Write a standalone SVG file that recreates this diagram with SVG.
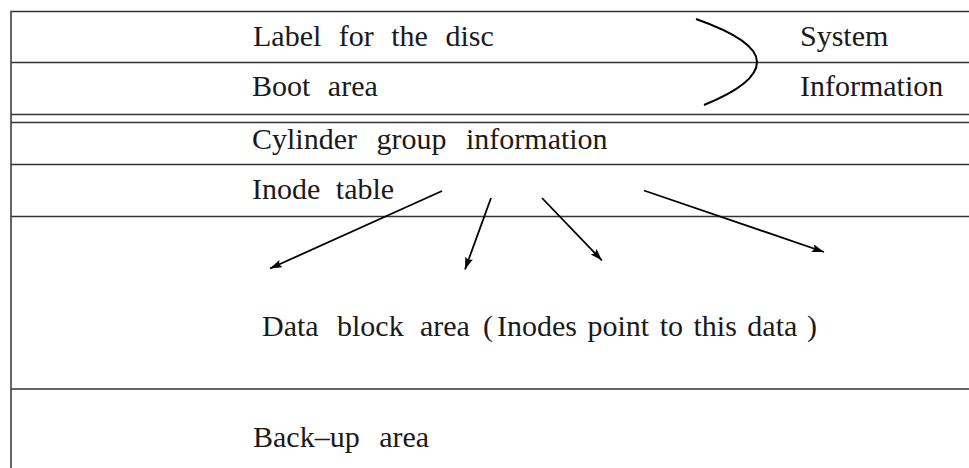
<svg xmlns="http://www.w3.org/2000/svg" width="969" height="468" viewBox="0 0 969 468">
  <style>
    .rule { stroke: #333; stroke-width: 1.5; fill: none; }
    .lbl { font-family: "Liberation Serif", "Times New Roman", serif; font-size: 30px; fill: #1a1a1a; }
    .wide { word-spacing: 10px; }
    .ptr { stroke: #000; stroke-width: 1.8; fill: none; marker-end: url(#head); }
    .brace { stroke: #000; stroke-width: 2; fill: none; }
  </style>
  <defs>
    <marker id="head" markerUnits="userSpaceOnUse" markerWidth="14" markerHeight="10" refX="12" refY="4" orient="auto">
      <path d="M0,0 L12,4 L0,8 L2,4 z" fill="#000"/>
    </marker>
  </defs>
  <rect width="969" height="468" fill="#fff"/>

  <!-- disc layout: outer frame and band separators -->
  <g id="frame">
    <path class="rule" d="M11,468 V11.5 H969"/>
    <line class="rule" x1="11" y1="62.5" x2="969" y2="62.5"/>
    <line class="rule" x1="11" y1="114.5" x2="969" y2="114.5"/>
    <line class="rule" x1="11" y1="122.5" x2="969" y2="122.5"/>
    <line class="rule" x1="11" y1="164.5" x2="969" y2="164.5"/>
    <line class="rule" x1="11" y1="216.5" x2="969" y2="216.5"/>
    <line class="rule" x1="11" y1="389" x2="969" y2="389"/>
  </g>

  <g id="label-band">
    <text class="lbl wide" x="253" y="46">Label for the disc</text>
  </g>
  <g id="boot-band">
    <text class="lbl wide" x="252" y="96">Boot area</text>
  </g>
  <g id="system-info">
    <path class="brace" d="M696,19 Q757,40.5 757,62 Q757,83.5 704,105"/>
    <text class="lbl" x="800" y="46">System</text>
    <text class="lbl" x="800" y="96">Information</text>
  </g>
  <g id="cylinder-band">
    <text class="lbl" x="252" y="149" style="word-spacing:12px">Cylinder group information</text>
  </g>
  <g id="inode-band">
    <text class="lbl" x="252" y="199" style="word-spacing:8px">Inode table</text>
  </g>
  <g id="data-band">
    <text class="lbl" y="336"><tspan x="262">Data</tspan><tspan x="337">block</tspan><tspan x="420">area</tspan><tspan x="483">(</tspan><tspan x="497" style="word-spacing:3px">Inodes point to this data</tspan><tspan x="807">)</tspan></text>
  </g>
  <g id="backup-band">
    <text class="lbl" x="253" y="447" style="word-spacing:12px">Back–up area</text>
  </g>

  <!-- inode pointers into the data block area -->
  <g id="connectors">
    <line class="ptr" x1="442" y1="191" x2="270" y2="268.5"/>
    <line class="ptr" x1="491" y1="198" x2="465" y2="269.5"/>
    <line class="ptr" x1="542" y1="198" x2="602" y2="260.5"/>
    <line class="ptr" x1="644" y1="190.5" x2="824" y2="252"/>
  </g>
</svg>
